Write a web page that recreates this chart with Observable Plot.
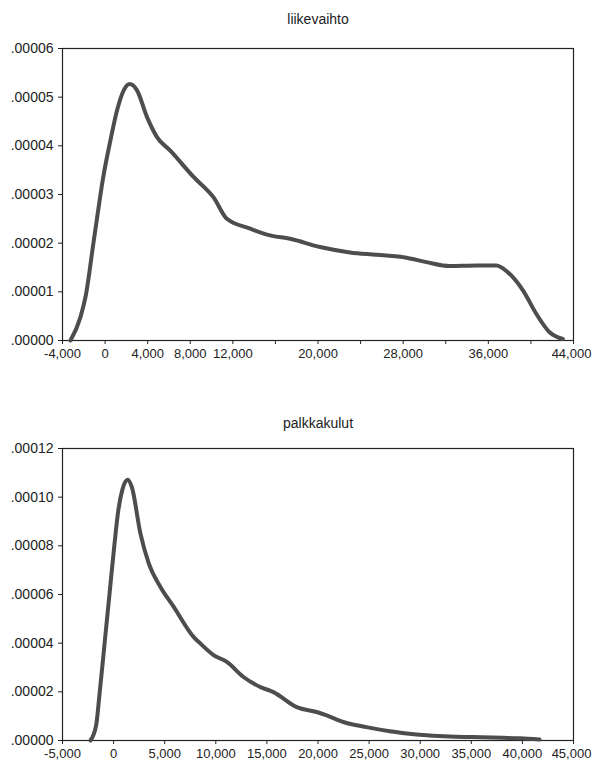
<!DOCTYPE html>
<html>
<head>
<meta charset="utf-8">
<script src="https://cdn.jsdelivr.net/npm/d3@7"></script>
<script src="https://cdn.jsdelivr.net/npm/@observablehq/plot@0.6"></script>
<style>
  html, body { margin: 0; padding: 0; background: #fff; }
  #chart svg { display: block; }
</style>
</head>
<body>
<div id="chart"></div>
<script>
// ---- Data ----
const title1 = "liikevaihto";
const x1 = [-3250, -2313, -1844, -1063, -125, 500, 1125, 1750, 2313, 3000, 3940, 4875, 6125, 8310, 10190, 11440, 13625, 15500, 17375, 20190, 23000, 25500, 28310, 30190, 32375, 34875, 36750, 37840, 39250, 40500, 41750, 43000];
const y1 = [0, 0.48e-5, 0.89e-5, 2.05e-5, 3.42e-5, 4.11e-5, 4.73e-5, 5.14e-5, 5.27e-5, 5.14e-5, 4.59e-5, 4.18e-5, 3.90e-5, 3.36e-5, 2.94e-5, 2.50e-5, 2.30e-5, 2.16e-5, 2.09e-5, 1.92e-5, 1.81e-5, 1.76e-5, 1.70e-5, 1.61e-5, 1.53e-5, 1.54e-5, 1.54e-5, 1.40e-5, 1.03e-5, 0.55e-5, 0.17e-5, 0.03e-5];
const xTicks1 = [-4000, 0, 4000, 8000, 12000, 16000, 20000, 24000, 28000, 32000, 36000, 40000, 44000];
const xLabels1 = [-4000, 0, 4000, 8000, 12000, 20000, 28000, 36000, 44000];
const yTicks1 = [0, 0.00001, 0.00002, 0.00003, 0.00004, 0.00005, 0.00006];

const title2 = "palkkakulut";
const x2 = [-2266, -1710, -1387, -898, -410, 78, 469, 860, 1380, 1800, 2617, 3430, 4570, 5870, 7820, 8477, 9780, 11080, 12710, 14340, 15640, 17920, 19870, 20850, 22470, 24750, 27030, 29640, 32890, 35160, 38100, 39730, 41680];
const y2 = [0, 0.62e-5, 1.86e-5, 3.92e-5, 5.98e-5, 8.04e-5, 9.48e-5, 10.31e-5, 10.72e-5, 10.39e-5, 8.52e-5, 7.29e-5, 6.32e-5, 5.50e-5, 4.26e-5, 3.99e-5, 3.51e-5, 3.23e-5, 2.61e-5, 2.20e-5, 1.99e-5, 1.37e-5, 1.17e-5, 1.03e-5, 0.76e-5, 0.55e-5, 0.38e-5, 0.25e-5, 0.16e-5, 0.14e-5, 0.11e-5, 0.09e-5, 0.04e-5];
const xTicks2 = [-5000, 0, 5000, 10000, 15000, 20000, 25000, 30000, 35000, 40000, 45000];
const yTicks2 = [0, 0.00002, 0.00004, 0.00006, 0.00008, 0.00010, 0.00012];

// ---- Helpers ----
const fmtX = d => d.toLocaleString("en-US");
const fmtY = d => d3.format(".5f")(d).replace(/^0/, "");
const LINE = "#4d4d4d";
const INK = "#222";
const FONT = "Liberation Sans, Arial, sans-serif";

function panel({title, xs, ys, xDomain, yDomain, xTicks, xLabels, yTicks, height, marginTop, marginBottom, titleDy}) {
  const data = xs.map((x, i) => ({x, y: ys[i]}));
  const lastLabel = xLabels[xLabels.length - 1];
  const mainLabels = xLabels.slice(0, -1);
  return Plot.plot({
    width: 593,
    height,
    marginLeft: 62,
    marginRight: 20,
    marginTop,
    marginBottom,
    style: {fontFamily: FONT, fontSize: "13px", color: INK, background: "#fff"},
    x: {domain: xDomain, label: null},
    y: {domain: yDomain, label: null},
    marks: [
      Plot.frame({stroke: INK, strokeWidth: 1.2}),
      // y axis: ticks + labels
      Plot.axisY({ticks: yTicks, tickFormat: fmtY, tickSize: 4, tickPadding: 5, fontSize: 14, label: null}),
      // x axis: tick marks
      Plot.axisX({ticks: xTicks, tickFormat: () => "", tickSize: 4, label: null}),
      // x axis: labels (last one nudged inside the page)
      Plot.axisX({ticks: mainLabels, tickFormat: fmtX, tickSize: 0, tickPadding: 8, label: null}),
      Plot.axisX({ticks: [lastLabel], tickFormat: fmtX, tickSize: 0, tickPadding: 8, dx: -2, label: null}),
      Plot.line(data, {x: "x", y: "y", stroke: LINE, strokeWidth: 4, curve: "monotone-x", strokeLinecap: "round", strokeLinejoin: "round"}),
      Plot.text([title], {frameAnchor: "top", dy: titleDy, text: d => d, fontSize: 14, fill: INK})
    ]
  });
}

const chart = document.getElementById("chart");
chart.append(panel({
  title: title1, xs: x1, ys: y1,
  xDomain: [-4000, 44000], yDomain: [0, 0.00006],
  xTicks: xTicks1, xLabels: xLabels1, yTicks: yTicks1,
  height: 380, marginTop: 48, marginBottom: 40, titleDy: -34
}));
chart.append(panel({
  title: title2, xs: x2, ys: y2,
  xDomain: [-5000, 45000], yDomain: [0, 0.00012],
  xTicks: xTicks2, xLabels: xTicks2, yTicks: yTicks2,
  height: 383, marginTop: 68, marginBottom: 23, titleDy: -30
}));
</script>
</body>
</html>
